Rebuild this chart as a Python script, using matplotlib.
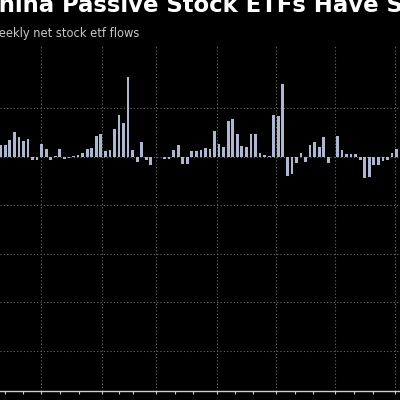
import numpy as np
import matplotlib.pyplot as plt

# weekly net stock etf flows (one bar per week)
flows = [2.3, 2.4, 3.5, 5.0, 4.1, 3.3, 3.7, -0.6, -0.7, 2.7,
         1.6, -0.7, 0.1, 1.6, -0.5, -0.2, 0.1, 0.4, 0.8, 1.6,
         1.7, 4.2, 4.6, 1.2, 1.3, 5.6, 8.6, 6.9, 16.4, 1.3,
         -1.2, 3.1, -0.7, -1.7, -0.1, -0.1, -0.5, -0.5, 1.4, 2.3,
         -1.5, -1.5, 1.2, 1.2, 1.3, 1.7, 1.6, 5.2, 2.6, 2.0,
         7.3, 7.7, 4.6, 2.2, 1.9, 4.7, 4.7, 0.8, 0.4, 0.1,
         8.5, 8.3, 15.0, -3.9, -3.6, -1.4, 0.8, -1.1, 2.3, 3.1,
         2.0, 4.1, -1.4, -0.1, 4.2, 1.4, 0.6, 0.5, 0.5, -0.7,
         -4.5, -4.3, -1.7, -1.7, -1.0, -0.7, 0.7, 1.6]
weeks = np.arange(len(flows))

# month starts, in week units
month_ticks = [0.95, 5.0, 8.9, 13.0, 17.1, 22.2, 26.1, 29.1, 34.2, 38.2, 42.3,
               47.5, 51.5, 55.5, 60.6, 64.6, 68.6, 73.5, 77.6, 81.8, 86.7]
quarter_ticks = month_ticks[2::3]
y_grid = [-40, -30, -20, -10, 0, 10]

title = "China Passive Stock ETFs Have Seen"
subtitle = "Weekly net stock etf flows"

fig = plt.figure(figsize=(4, 4), dpi=100)
fig.patch.set_facecolor('black')
ax = fig.add_axes([0, 9/400, 1, 346/400])
ax.set_facecolor('black')

ax.bar(weeks, flows, width=0.6, color='#adb7d0', zorder=3)

ax.set_xlim(-0.154, 87.76)
ax.set_ylim(-48.3, 23.0)

for x in quarter_ticks:
    ax.axvline(x, color='#6a6a6a', lw=0.8, ls=(0, (1, 2)), zorder=1)
for y in y_grid:
    ax.axhline(y, color='#6a6a6a', lw=0.8, ls=(0, (1, 2)), zorder=1)

for s in ['left', 'right', 'top']:
    ax.spines[s].set_visible(False)
ax.spines['bottom'].set_color('#cfcfcf')
ax.spines['bottom'].set_linewidth(1.0)
ax.set_xticks(month_ticks)
ax.set_yticks([])
ax.tick_params(axis='x', direction='out', length=2.5, width=0.8,
               color='#cfcfcf', labelbottom=False)

fig.text(-0.045, 0.969, title, color='white', fontsize=16.4,
         fontweight='bold', va='baseline', ha='left')
fig.text(-0.029, 0.908, subtitle, color='#c8c8c8', fontsize=8.3,
         va='baseline', ha='left')

fig.savefig('out.png', dpi=100, facecolor='black')
